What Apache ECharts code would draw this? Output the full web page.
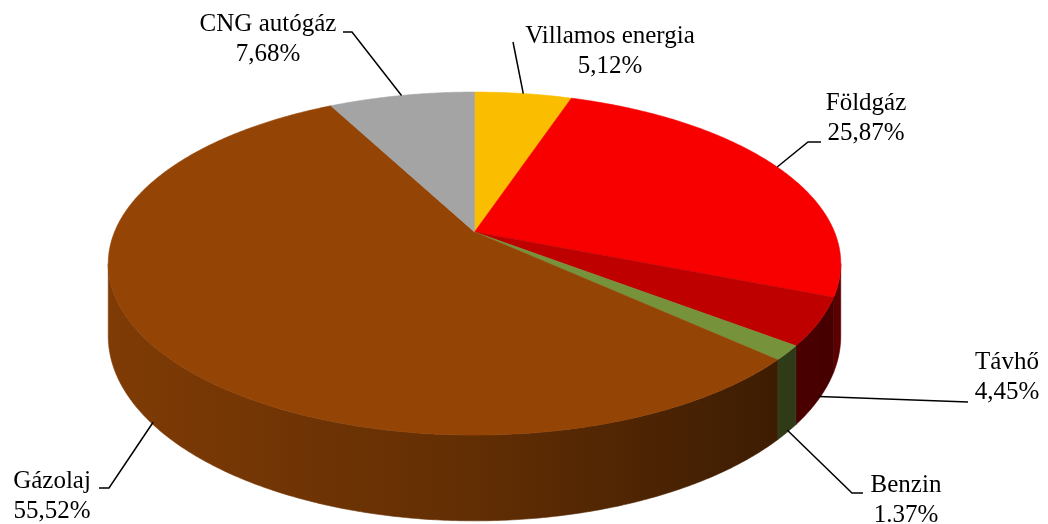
<!DOCTYPE html>
<html>
<head>
<meta charset="utf-8">
<script src="https://cdn.jsdelivr.net/npm/echarts@6/dist/echarts.min.js"></script>
<style>
  html, body { margin: 0; padding: 0; background: #fff; }
  #chart { width: 1048px; height: 524px; }
</style>
</head>
<body>
<div id="chart"></div>
<script>
// data
const categories = ['Villamos energia', 'Földgáz', 'Távhő', 'Benzin', 'Gázolaj', 'CNG autógáz'];
const values = [5.12, 25.87, 4.45, 1.37, 55.52, 7.68];
const valueLabels = ['5,12%', '25,87%', '4,45%', '1.37%', '55,52%', '7,68%'];

// styles
const topColors = ['#FABD00', '#F80000', '#BE0000', '#76923B', '#944506', '#A4A4A4'];

// where the labels sit: text block centre + leader start [x, y, elbowX]
const labelLayout = [
    { x: 610, y: 51, leader: [513, 42, 513] },
    { x: 866, y: 118, leader: [821, 142, 808] },
    { x: 1007, y: 377, leader: [968, 402, 968] },
    { x: 906, y: 500, leader: [863, 493, 852] },
    { x: 52, y: 496, leader: [99, 488, 109] },
    { x: 268, y: 39, leader: [343, 32, 352] }
];

// fake 3D pie geometry (perspective-projected disc)
const CX = 474.5, CY = 232, RX = 360, RY = 165.7, K = 0.184, DEPTH = 70;

const total = values.reduce((a, b) => a + b, 0);
const starts = [];
let acc = 0;
values.forEach(v => { starts.push(acc / total * 360); acc += v; });

function proj(deg, h) {
    const a = deg * Math.PI / 180;
    const x = Math.sin(a), y = -Math.cos(a);
    const w = 1 - K * y;
    return [CX + RX * x / w, CY + RY * y / w + h * DEPTH / w];
}

function arc(a0, a1, h) {
    const pts = [];
    const n = Math.max(2, Math.ceil(Math.abs(a1 - a0) / 0.5));
    for (let i = 0; i <= n; i++) pts.push(proj(a0 + (a1 - a0) * i / n, h));
    return pts;
}

function shade(hex, f) {
    const n = parseInt(hex.slice(1), 16);
    const r = Math.round(((n >> 16) & 255) * f);
    const g = Math.round(((n >> 8) & 255) * f);
    const b = Math.round((n & 255) * f);
    return 'rgb(' + r + ',' + g + ',' + b + ')';
}

// visible part of the outer wall (between the two silhouettes)
const visFrom = 90 + Math.asin(K) * 180 / Math.PI;
const visTo = 270 - Math.asin(K) * 180 / Math.PI;

function renderItem(params, api) {
    const i = params.dataIndex;
    const a0 = starts[i];
    const a1 = a0 + api.value(0) / total * 360;
    const color = topColors[i];
    const children = [];

    // outer wall
    const w0 = Math.max(a0, visFrom), w1 = Math.min(a1, visTo);
    if (w1 > w0) {
        const pts = arc(w0, w1, 0).concat(arc(w1, w0, 1));
        const grad = {
            type: 'linear', x: CX - RX * 1.02, y: 0, x2: CX + RX * 1.02, y2: 0, global: true,
            colorStops: [
                { offset: 0, color: shade(color, 0.86) },
                { offset: 0.5, color: shade(color, 0.66) },
                { offset: 1, color: shade(color, 0.36) }
            ]
        };
        children.push({
            type: 'polygon',
            shape: { points: pts },
            style: { fill: grad, stroke: grad, lineWidth: 0.6 }
        });
    }

    // top face
    const top = [[CX, CY]].concat(arc(a0, a1, 0));
    children.push({
        type: 'polygon',
        shape: { points: top },
        style: { fill: color, stroke: color, lineWidth: 0.6 }
    });

    // leader line
    const mid = (a0 + a1) / 2;
    const onWall = mid > visFrom && mid < visTo;
    const anchor = proj(mid, onWall ? 0.97 : 0);
    const lay = labelLayout[i];
    children.push({
        type: 'polyline',
        shape: { points: [[lay.leader[0], lay.leader[1]], [lay.leader[2], lay.leader[1]], anchor] },
        style: { stroke: '#000', lineWidth: 1.5, fill: null },
        z2: 10
    });

    // label
    children.push({
        type: 'text',
        x: lay.x,
        y: lay.y,
        style: {
            text: categories[i] + '\n' + valueLabels[i],
            fill: '#000',
            fontFamily: '"Liberation Serif", "Times New Roman", serif',
            fontSize: 25,
            lineHeight: 30,
            align: 'center',
            verticalAlign: 'middle'
        },
        z2: 10
    });

    return { type: 'group', children: children };
}

const chart = echarts.init(document.getElementById('chart'), null, { renderer: 'canvas' });
chart.setOption({
    backgroundColor: '#fff',
    animation: false,
    series: [{
        type: 'custom',
        coordinateSystem: 'none',
        renderItem: renderItem,
        data: values.map((v, i) => ({ name: categories[i], value: [v] }))
    }]
});
</script>
</body>
</html>
